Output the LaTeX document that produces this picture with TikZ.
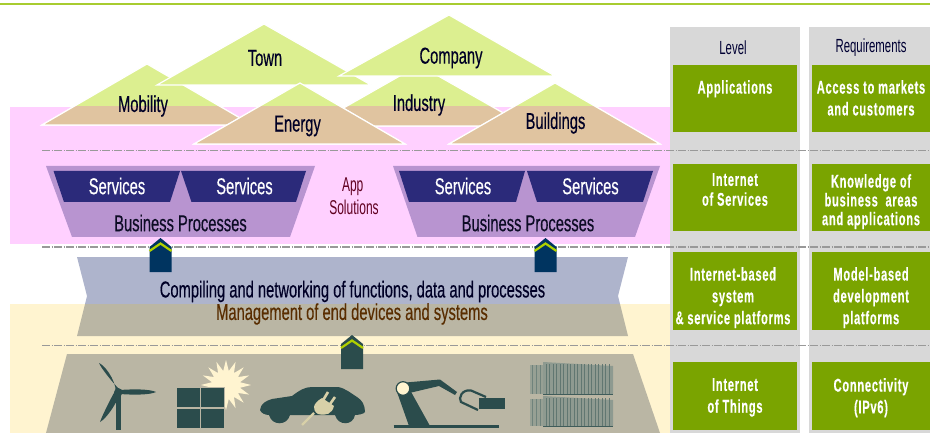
\documentclass[tikz,border=0pt]{standalone}
\usepackage{fontspec}
\setmainfont[FakeStretch=0.64,FakeBold=0.35]{Liberation Sans}
\newfontfamily\thinfont[FakeStretch=0.6]{Liberation Sans}
\newfontfamily\boxfont[FakeStretch=0.6,LetterSpace=4,FakeBold=0.3]{Liberation Sans Bold}
\usetikzlibrary{shapes.geometric}
\definecolor{topline}{HTML}{A8CC30}
\definecolor{appbg}{HTML}{FFD0FF}
\definecolor{thingbg}{HTML}{FFF4D0}
\definecolor{hill}{HTML}{DCEF90}
\definecolor{hilltan}{HTML}{E0C4A0}
\definecolor{funnel}{HTML}{B894D0}
\definecolor{servicec}{HTML}{2B2A7A}
\definecolor{bandblue}{HTML}{AEB4CC}
\definecolor{bandtan}{HTML}{BAB6A4}
\definecolor{navy}{HTML}{003460}
\definecolor{icon}{HTML}{2B4C4C}
\definecolor{chevron}{HTML}{B0D000}
\definecolor{panel}{HTML}{D8D8D8}
\definecolor{cellc}{HTML}{7AA400}
\definecolor{plugc}{HTML}{D8D0A8}
\definecolor{crate}{HTML}{8E9A90}
\tikzset{
  hilltext/.style={font=\fontsize{23}{23}\selectfont, text=black!85!blue},
  servicetext/.style={font=\fontsize{23}{23}\selectfont, text=white},
  processtext/.style={font=\fontsize{23}{23}\selectfont, text=black!70!servicec},
  bandtext/.style={font=\fontsize{23}{23}\selectfont},
  headtext/.style={font=\thinfont\fontsize{19}{19}\selectfont, text=black!80!blue},
  apptext/.style={font=\thinfont\fontsize{20}{20}\selectfont, text=black!50!purple},
  cell/.style={fill=cellc},
  celltext/.style={font=\boxfont\fontsize{18.5}{21.8}\selectfont, text=white, align=center, anchor=north, inner sep=0pt},
  sepline/.style={draw=black!40, line width=1.5, dash pattern=on 8 off 1.5 on 1 off 1.5},
}
\begin{document}
\begin{tikzpicture}[x=1pt, y=-1pt]
\useasboundingbox (0, 0) rectangle (930, 433);
\fill[appbg] (10, 107) rectangle (670, 244);
\fill[thingbg] (10, 304) rectangle (670, 433);
\draw[topline, line width=2] (0, 4) -- (930, 4);
\fill[panel] (670, 27) rectangle (800, 433);
\fill[panel] (809, 27) rectangle (930, 433);
\foreach \apex/\left/\right/\base in {147/42/252/125, 419/312/526/126, 264/157/371/85, 449/339/555/76, 300/194/405/144, 555/449/660/144} {
  \path (\apex, \base-61) coordinate (top) (\left, \base) coordinate (lft) (\right, \base) coordinate (rgt);
  \filldraw[fill=hill, draw=white, line width=1.2] (top) -- (lft) -- (rgt) -- cycle;
  \begin{scope}
    \clip (10, 107) rectangle (670, 244);
    \filldraw[fill=hilltan, draw=white, line width=1.2] (top) -- (lft) -- (rgt) -- cycle;
  \end{scope}
}
\node[hilltext] (mobility) at (143, 106) {Mobility};
\node[hilltext] (town) at (265, 58) {Town};
\node[hilltext] (company) at (451, 58) {Company};
\node[hilltext] (industry) at (419, 105) {Industry};
\node[hilltext] (energy) at (297.5, 126) {Energy};
\node[hilltext] (buildings) at (555.5, 123) {Buildings};
\fill[funnel] (46, 166) -- (315, 166) -- (290, 237) -- (72, 237) -- cycle;
\fill[funnel] (393, 166) -- (660, 166) -- (635, 237) -- (417.5, 237) -- cycle;
\fill[servicec] (53.5, 171) -- (180, 171) -- (170, 202) -- (64, 202) -- cycle;
\fill[servicec] (181, 171) -- (306, 171) -- (296, 202) -- (191.5, 202) -- cycle;
\fill[servicec] (399, 171) -- (525, 171) -- (516, 202) -- (409, 202) -- cycle;
\fill[servicec] (527, 171) -- (653, 171) -- (643, 202) -- (537, 202) -- cycle;
\node[servicetext] (serviceA) at (117, 186) {Services};
\node[servicetext] (serviceB) at (244.5, 186) {Services};
\node[servicetext] (serviceC) at (463, 186) {Services};
\node[servicetext] (serviceD) at (590.5, 186) {Services};
\node[processtext] (processL) at (180.5, 223) {Business Processes};
\node[processtext] (processR) at (528, 223) {Business Processes};
\node[apptext] (app) at (352.7, 186.5) {App};
\node[apptext] (solutions) at (354, 207) {Solutions};
\fill[bandblue] (77, 257) -- (628, 257) -- (618, 296) -- (620, 304) -- (85, 304) -- (87, 296) -- cycle;
\fill[bandtan] (85, 304) -- (620, 304) -- (628, 336) -- (77, 336) -- cycle;
\fill[bandtan] (67, 354) -- (633, 354) -- (660, 433) -- (46, 433) -- cycle;
\node[bandtext, text=black!85!blue] (compiling) at (352.5, 291.5) {Compiling and networking of functions, data and processes};
\node[bandtext, text=black!65!orange] (management) at (352, 314) {Management of end devices and systems};
\coordinate (sepAl) at (42, 150.5);
\coordinate (sepAr) at (930, 150.5);
\coordinate (sepBl) at (42, 247);
\coordinate (sepBr) at (930, 247);
\coordinate (sepCl) at (42, 345.5);
\coordinate (sepCr) at (930, 345.5);
\draw[sepline] (sepAl) -- (sepAr);
\draw[sepline] (sepBl) -- (sepBr);
\draw[sepline] (sepCl) -- (sepCr);
\foreach \px/\py/\pc in {149.5/238/navy, 534.5/238/navy, 341/335/icon} {
  \fill[\pc] (\px, \py+9) -- (\px+11, \py) -- (\px+22, \py+9) -- (\px+22, \py+34) -- (\px, \py+34) -- cycle;
  \draw[chevron, line width=2.2] (\px, \py+13) -- (\px+11, \py+5.5) -- (\px+22, \py+13);
}
\foreach \cx/\cw in {673/124, 812/118} {
  \fill[cell] (\cx, 65) rectangle +(\cw, 67);
  \fill[cell] (\cx, 164) rectangle +(\cw, 67);
  \fill[cell] (\cx, 252) rectangle +(\cw, 78);
  \fill[cell] (\cx, 362) rectangle +(\cw, 68);
}
\node[headtext] (level) at (733, 48) {Level};
\node[headtext] (requirements) at (871, 48) {Requirements};
\node[celltext] (levelA) at (735, 80) {Applications};
\node[celltext] (levelB) at (735, 173) {Internet\\[-2pt]of Services};
\node[celltext] (levelC) at (733, 267) {Internet-based\\system\\\& service platforms};
\node[celltext] (levelD) at (735, 378) {Internet\\of Things};
\node[celltext] (reqA) at (871, 80) {Access to markets\\and customers};
\node[celltext] (reqB) at (871, 174) {Knowledge of\\[-3pt]business\ \ areas\\[-3pt]and applications};
\node[celltext] (reqC) at (871, 267) {Model-based\\development\\platforms};
\node[celltext] (reqD) at (871, 378) {Connectivity\\(IPv6)};
\fill[icon] (116, 392) -- (120.5, 392) -- (120.5, 430) -- (116, 430) -- cycle;
\fill[icon] (118.3, 392.3) circle [radius=4.2];
\fill[icon] (120, 390) .. controls (112, 382) and (101, 368) .. (99, 363) .. controls (104, 365) and (115, 378) .. (116, 392) -- cycle;
\fill[icon] (120, 390) .. controls (133, 389) and (150, 389) .. (156, 392) .. controls (150, 395) and (133, 395) .. (120, 394) -- cycle;
\fill[icon] (115, 391) .. controls (110, 400) and (102, 416) .. (100, 422) .. controls (107, 418) and (116, 404) .. (120, 394) -- cycle;
\node[star, star points=16, star point ratio=1.75, fill=thingbg, inner sep=0pt, minimum size=50] (flash) at (226, 385) {};
\foreach \qx/\qy in {176/387, 200.5/387, 176/408, 200.5/408}
  \filldraw[fill=icon, draw=bandtan, line width=0.8] (\qx, \qy) rectangle +(24, 20.5);
\fill[icon] (260, 410) .. controls (261, 403) and (266, 401) .. (272, 399) -- (292, 396) .. controls (300, 390) and (305, 387) .. (312, 387) -- (338, 387) .. controls (345, 388) and (352, 394) .. (357, 397) .. controls (362, 400) and (365, 405) .. (365, 412) .. controls (364, 414) and (358, 415) .. (355, 415) .. controls (353, 426) and (338, 426) .. (335, 415) -- (290, 415) .. controls (287, 426) and (272, 426) .. (269, 415) .. controls (265, 415) and (261, 413) .. (260, 410) -- cycle;
\draw[plugc, line width=2.4] (314, 413) -- (302, 425);
\draw[plugc, line width=2.6] (322, 402) -- (328, 392);
\draw[plugc, line width=2.6] (328, 407) -- (335, 397);
\fill[plugc] (322, 398) -- (334, 406) .. controls (332, 414) and (326, 416) .. (318, 414) .. controls (312, 410) and (312, 404) .. (322, 398) -- cycle;
\fill[icon] (397, 392) -- (410, 390) -- (430, 426) -- (409, 426) -- cycle;
\fill[icon] (400, 383) -- (440, 379.5) -- (457, 392) -- (455, 395) -- (439, 386) -- (405, 394) -- cycle;
\filldraw[fill=thingbg, draw=icon, line width=1.2] (403, 388.5) circle [radius=6.8];
\draw[icon, line width=2.2] (486, 397) -- (471, 390.5) .. controls (462, 389) and (458, 398) .. (461, 402) -- (478, 410);
\fill[icon] (479, 398) rectangle (505, 409);
\draw[icon, line width=3] (393.5, 426.5) -- (498.5, 426.5);
\foreach \by/\bh in {362/32, 396/30} {
  \fill[crate!80!bandtan] (530, \by+3) rectangle (543, \by+\bh);
  \foreach \sx in {532, 536, 540}
    \draw[crate!70!icon, line width=0.6] (\sx, \by+3) -- (\sx, \by+\bh);
  \fill[crate] (543, \by) -- (613, \by+4) -- (613, \by+\bh) -- (543, \by+\bh) -- cycle;
  \foreach \sx in {546, 549.5, ..., 612}
    \draw[icon!45!crate, line width=0.8] (\sx, \by+2) -- (\sx, \by+\bh);
  \draw[icon!80!crate, line width=1] (543, \by+\bh) -- (613, \by+\bh);
}
\end{tikzpicture}
\end{document}
